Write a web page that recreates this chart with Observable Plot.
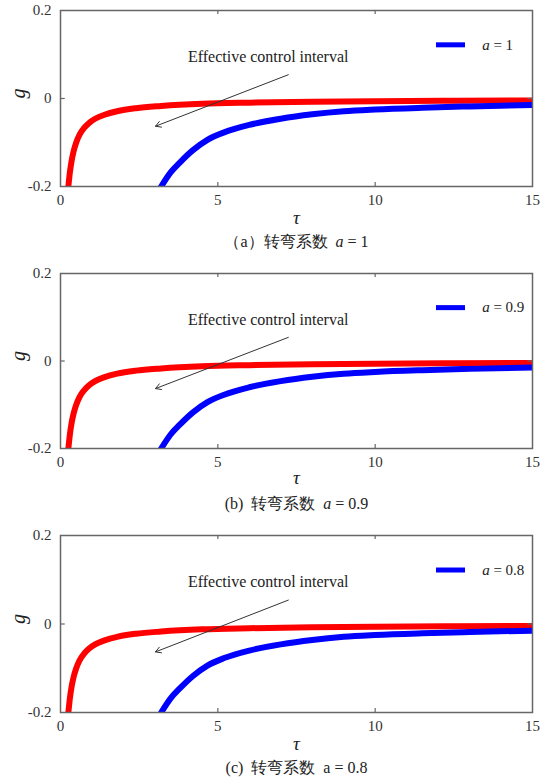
<!DOCTYPE html>
<html>
<head>
<meta charset="utf-8">
<script src="https://cdn.jsdelivr.net/npm/d3@7"></script>
<script src="https://cdn.jsdelivr.net/npm/@observablehq/plot@0.6"></script>
<style>
  body { margin: 0; background: #fff; }
  #chart { width: 547px; }
  #chart svg { display: block; }
  #chart svg text, #chart svg tspan { font-family: "Times New Roman", "Liberation Serif", Times, "DejaVu Serif", serif !important; }
</style>
</head>
<body>
<div id="chart"></div>
<script>
// ---- data ----
const tauRed = [0.25, 0.3, 0.35, 0.42, 0.5, 0.6, 0.75, 0.9, 1.1, 1.4, 1.8, 2.4, 3.2, 4.5, 6, 8, 10, 12.5, 15];
const gRed   = [-0.2, -0.167, -0.143, -0.119, -0.1, -0.083, -0.067, -0.056, -0.046, -0.037, -0.029, -0.022, -0.017, -0.012, -0.0095, -0.0075, -0.0062, -0.0052, -0.0045];
const tauBlue = [3.2, 3.5, 3.8, 4.2, 4.67, 5.2, 6, 7, 8, 9, 10, 11.5, 13, 15];
const gBlue   = [-0.2, -0.168, -0.145, -0.118, -0.094, -0.077, -0.06, -0.046, -0.036, -0.029, -0.025, -0.021, -0.018, -0.015];
const xTicks = [0, 5, 10, 15];
const yTicks = [-0.2, 0, 0.2];
const innerXTicks = [5, 10];
const innerYTicks = [0];
const panelTags = ["（a）", "(b)  ", "(c)  "];
const aValues = ["1", "0.9", "0.8"];
const captionItalic = [true, true, false];
const annotationText = "Effective control interval";
const arrowFrom = {tau: 7.24, g: 0.054};
const arrowTo = {tau: 3.02, g: -0.063};
const annotationPos = {tau: 6.6, g: 0.095};
const legendPos = {tau1: 11.95, tau2: 12.87, g: 0.122, labelTau: 13.4};

const redData = tauRed.map((t, i) => ({tau: t, g: gRed[i]}));
const blueData = tauBlue.map((t, i) => ({tau: t, g: gBlue[i]}));

const layouts = [
  {height: 260, marginTop: 10, marginBottom: 74, tauDy: 37, capDy: 60},
  {height: 260, marginTop: 13, marginBottom: 72, tauDy: 35, capDy: 60},
  {height: 257, marginTop: 15, marginBottom: 65, tauDy: 37, capDy: 60}
];

const serif = "Times New Roman, Liberation Serif, DejaVu Serif, serif";

function panel(i) {
  const L = layouts[i];
  const svg = Plot.plot({
    width: 547,
    height: L.height,
    marginLeft: 60,
    marginRight: 15,
    marginTop: L.marginTop,
    marginBottom: L.marginBottom,
    style: {fontFamily: serif, fontSize: "15px", color: "#333", background: "white", overflow: "visible"},
    x: {domain: [0, 15], ticks: xTicks, tickSize: 0, tickPadding: 8, label: null},
    y: {domain: [-0.2, 0.2], ticks: yTicks, tickSize: 0, tickPadding: 9, label: null,
        tickFormat: d => d === 0 ? "0" : d.toFixed(1)},
    marks: [
      Plot.line(redData, {x: "tau", y: "g", stroke: "#ff0000", strokeWidth: 6, curve: "monotone-x", clip: true}),
      Plot.line(blueData, {x: "tau", y: "g", stroke: "#0000ff", strokeWidth: 6, curve: "monotone-x", clip: true}),
      Plot.frame({stroke: "#666", strokeWidth: 1.5}),
      Plot.ruleX(innerXTicks, {x: d => d, y1: -0.2, y2: -0.191, stroke: "#666", strokeWidth: 1.2}),
      Plot.ruleX(innerXTicks, {x: d => d, y1: 0.2, y2: 0.191, stroke: "#666", strokeWidth: 1.2}),
      Plot.ruleY(innerYTicks, {y: d => d, x1: 0, x2: 0.15, stroke: "#666", strokeWidth: 1.2}),
      Plot.ruleY(innerYTicks, {y: d => d, x1: 15, x2: 14.85, stroke: "#666", strokeWidth: 1.2}),
      Plot.arrow([0], {x1: () => arrowFrom.tau, y1: () => arrowFrom.g, x2: () => arrowTo.tau, y2: () => arrowTo.g,
        stroke: "#333", strokeWidth: 1, headLength: 9, bend: false}),
      Plot.text([annotationText], {x: () => annotationPos.tau, y: () => annotationPos.g, text: d => d,
        fontSize: 16, fill: "#222"}),
      Plot.ruleY([legendPos.g], {y: d => d, x1: legendPos.tau1, x2: legendPos.tau2, stroke: "#0000ff", strokeWidth: 5}),
      Plot.text(["a = " + aValues[i]], {x: () => legendPos.labelTau, y: () => legendPos.g, text: d => d,
        textAnchor: "start", fontSize: 15, fill: "#222"}),
      Plot.text(["τ"], {frameAnchor: "bottom", dy: L.tauDy, text: d => d, fontStyle: "italic", fontSize: 19, fill: "#222"}),
      Plot.text(["g"], {frameAnchor: "left", dx: -42, dy: 0, text: d => d, rotate: -90, fontStyle: "italic", fontSize: 20, fill: "#222"}),
      Plot.text([panelTags[i] + "转弯系数  a = " + aValues[i]], {frameAnchor: "bottom", dy: L.capDy, text: d => d,
        fontSize: 16, fill: "#222"})
    ]
  });
  // italicise the variable "a"
  d3.select(svg).selectAll("text").each(function() {
    const el = d3.select(this);
    if (el.selectAll("tspan").size() > 0) return;
    const s = this.textContent;
    const idx = s.lastIndexOf("a = ");
    if (idx < 0) return;
    const isCaption = s.includes("转弯");
    const italic = isCaption ? captionItalic[i] : true;
    el.text(null);
    el.append("tspan").text(s.slice(0, idx));
    el.append("tspan").attr("font-style", italic ? "italic" : "normal").text("a");
    el.append("tspan").text(s.slice(idx + 1));
  });
  return svg;
}

const root = document.getElementById("chart");
for (let i = 0; i < 3; i++) root.appendChild(panel(i));
</script>
</body>
</html>
